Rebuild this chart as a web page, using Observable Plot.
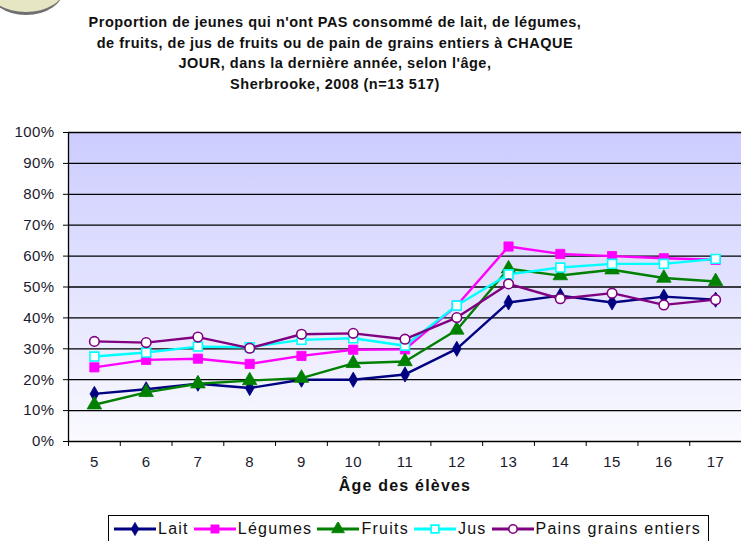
<!DOCTYPE html>
<html>
<head>
<meta charset="utf-8">
<script src="https://cdn.jsdelivr.net/npm/d3@7"></script>
<script src="https://cdn.jsdelivr.net/npm/@observablehq/plot@0.6"></script>
<style>
  body { margin: 0; background: #fff; font-family: "Liberation Sans", Arial, sans-serif; }
  #wrap { position: relative; width: 741px; height: 541px; overflow: hidden; }
  #title { position: absolute; left: 40px; width: 590px; top: 12px; text-align: center; font-weight: bold; font-size: 14.5px; letter-spacing: 0.5px; line-height: 20.5px; color: #111; }
  #logo { position: absolute; left: -12px; top: -38px; width: 76px; height: 50px; border-radius: 50%; background: #e6e6c4; border-bottom: 3px solid #6f6f6f; }
  #legend { position: absolute; left: 108px; top: 515px; width: 601px; height: 30px; border: 1px solid #000; background: #fff; display: flex; align-items: center; font-size: 16px; letter-spacing: 1.25px; color: #111; box-sizing: border-box; padding-bottom: 2px; }
  #legend .item { display: flex; align-items: center; margin-left: 5px; }
  #chart { position: absolute; left: 0; top: 0; }
</style>
</head>
<body>
<div id="wrap">
  <div id="logo"></div>
  <div id="chart"></div>
  <div id="title">Proportion de jeunes qui n'ont PAS consommé de lait, de légumes,<br>de fruits, de jus de fruits ou de pain de grains entiers à CHAQUE<br>JOUR, dans la dernière année, selon l'âge,<br>Sherbrooke, 2008 (n=13 517)</div>
  <div id="legend"></div>
</div>
<script>
const ages = [5, 6, 7, 8, 9, 10, 11, 12, 13, 14, 15, 16, 17];
const lait    = [15.4, 16.9, 18.7, 17.3, 20.0, 20.0, 21.7, 30.0, 45.0, 47.2, 45.0, 46.9, 45.9];
const legumes = [24.0, 26.4, 26.8, 25.1, 27.7, 29.7, 29.8, 44.0, 63.1, 60.7, 60.0, 59.3, 58.8];
const fruits  = [11.9, 15.9, 18.7, 19.7, 20.5, 25.3, 25.9, 36.1, 55.9, 53.7, 55.6, 52.9, 51.8];
const jus     = [27.5, 28.8, 30.7, 30.5, 32.9, 33.4, 31.0, 44.0, 54.1, 56.3, 57.5, 57.5, 59.1];
const pains   = [32.4, 32.0, 33.8, 30.2, 34.7, 35.0, 33.1, 40.1, 51.0, 46.2, 48.0, 44.2, 45.9];
const yTicks = [0, 10, 20, 30, 40, 50, 60, 70, 80, 90, 100];
const xTitle = "Âge des élèves";

const series = [
  {name: "Lait", values: lait, color: "#000080", symbol: "diamond", fill: "#000080", r: 4.6},
  {name: "Légumes", values: legumes, color: "#ff00ff", symbol: "square", fill: "#ff00ff", r: 5.2},
  {name: "Fruits", values: fruits, color: "#008000", symbol: "triangle", fill: "#008000", r: 5.4},
  {name: "Jus", values: jus, color: "#00ffff", symbol: "square", fill: "#ffffff", r: 5.0},
  {name: "Pains grains entiers", values: pains, color: "#800080", symbol: "circle", fill: "#ffffff", r: 4.8}
];

const boundaries = d3.range(4.5, 18, 1);

const marks = [
  Plot.frame({fill: "url(#bggrad)", stroke: "none"}),
  Plot.gridY(yTicks.slice(1), {stroke: "#000", strokeOpacity: 1, strokeWidth: 1.3}),
  Plot.ruleX([4.5], {stroke: "#000", strokeWidth: 1.3}),
  Plot.ruleY([0], {stroke: "#000", strokeWidth: 1.3}),
  Plot.axisY(yTicks, {tickSize: 5, tickPadding: 9, tickFormat: d => d + "%", fontSize: 15, fill: "#1a1a2e", label: null}),
  Plot.axisX(boundaries, {tickSize: 5, tickFormat: () => "", label: null}),
  Plot.axisX(ages, {tickSize: 0, tickPadding: 15, fontSize: 15, fill: "#1a1a2e", label: null}),
  Plot.text([xTitle], {frameAnchor: "bottom", dy: 49, text: d => d, fontSize: 16, fontWeight: "bold", fill: "#111"})
];
for (const s of series) {
  const data = ages.map((a, i) => ({age: a, v: s.values[i]}));
  marks.push(Plot.line(data, {x: "age", y: "v", stroke: s.color, strokeWidth: 2.4}));
  marks.push(Plot.dot(data, {x: "age", y: "v", symbol: () => s.symbol, r: s.r, fill: s.fill, stroke: s.color, strokeWidth: s.fill === "#ffffff" ? 1.6 : 0.8}));
}

const chart = Plot.plot({
  width: 741,
  height: 541,
  marginLeft: 68,
  marginRight: 0,
  marginTop: 132,
  marginBottom: 100,
  x: {type: "linear", domain: [4.5, 17.5]},
  y: {domain: [0, 100]},
  symbol: {type: "identity"},
  style: {fontFamily: "'Liberation Sans', Arial, sans-serif", background: "transparent"},
  marks
});

const svg = d3.select(chart);
svg.selectAll("[aria-label='y-axis tick label'] text, [aria-label='x-axis tick label'] text").style("letter-spacing", "0.4px");
svg.selectAll("[aria-label='text'] text").style("letter-spacing", "1.2px");
const defs = svg.insert("defs", ":first-child");
const grad = defs.append("linearGradient").attr("id", "bggrad").attr("x1", 0).attr("y1", 0).attr("x2", 0).attr("y2", 1);
grad.append("stop").attr("offset", "0%").attr("stop-color", "#ccccff");
grad.append("stop").attr("offset", "100%").attr("stop-color", "#fafaff");
document.getElementById("chart").appendChild(chart);

// legend
const legend = d3.select("#legend");
for (const s of series) {
  const item = legend.append("div").attr("class", "item");
  const g = item.append("svg").attr("width", 42).attr("height", 14);
  g.append("line").attr("x1", 0).attr("x2", 42).attr("y1", 7).attr("y2", 7).attr("stroke", s.color).attr("stroke-width", 3);
  const sym = {diamond: d3.symbolDiamond, square: d3.symbolSquare, triangle: d3.symbolTriangle, circle: d3.symbolCircle}[s.symbol];
  g.append("path").attr("transform", "translate(21,7)")
    .attr("d", d3.symbol(sym, Math.PI * (s.r - 0.6) ** 2)())
    .attr("fill", s.fill).attr("stroke", s.color).attr("stroke-width", s.fill === "#ffffff" ? 1.6 : 0.8);
  item.append("span").text(s.name).style("margin-left", "2px");
}
</script>
</body>
</html>
